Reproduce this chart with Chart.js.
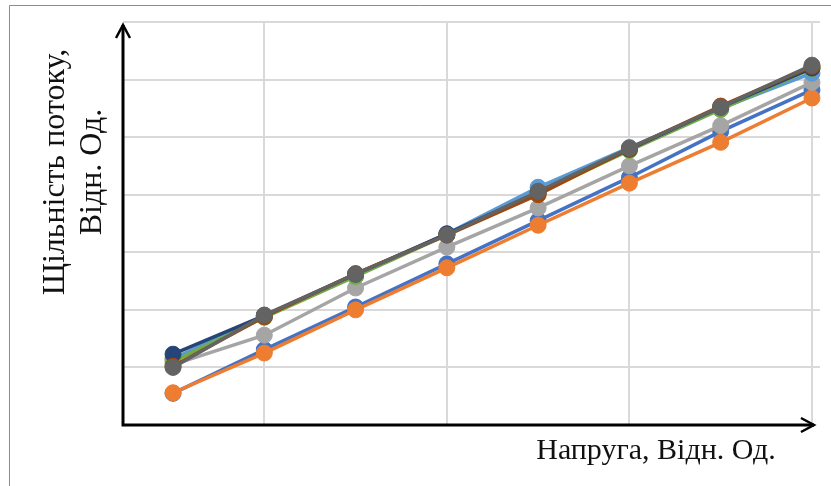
<!DOCTYPE html>
<html>
<head>
<meta charset="utf-8">
<script src="https://cdn.jsdelivr.net/npm/chart.js@4/dist/chart.umd.min.js"></script>
<style>
  html, body { margin: 0; padding: 0; background: #ffffff; }
  #wrap { width: 831px; height: 486px; }
</style>
</head>
<body>
<div id="wrap"><canvas id="c" width="831" height="486"></canvas></div>
<script>
// Voltage steps (relative units)
const voltage = [1, 2, 3, 4, 5, 6, 7, 8];

// Flux density per series (relative units)
const seriesBlue      = [0.55, 1.31, 2.05, 2.80, 3.55, 4.30, 5.10, 5.82];
const seriesOrange    = [0.56, 1.25, 2.00, 2.73, 3.47, 4.20, 4.91, 5.68];
const seriesGray      = [1.05, 1.56, 2.38, 3.09, 3.77, 4.50, 5.20, 5.95];
const seriesGold      = [1.15, 1.88, 2.60, 3.31, 4.02, 4.78, 5.50, 6.20];
const seriesLightBlue = [1.15, 1.89, 2.60, 3.32, 4.13, 4.82, 5.50, 6.11];
const seriesGreen     = [1.10, 1.87, 2.58, 3.30, 4.03, 4.77, 5.48, 6.19];
const seriesDarkBlue  = [1.23, 1.90, 2.62, 3.32, 4.04, 4.79, 5.52, 6.20];
const seriesBrown     = [1.02, 1.88, 2.63, 3.30, 4.00, 4.80, 5.54, 6.23];
const seriesDarkGray  = [1.00, 1.91, 2.62, 3.30, 4.06, 4.81, 5.52, 6.25];

// Gridline positions
const xGridTicks = [2, 4, 6, 8];
const yGridTicks = [1, 2, 3, 4, 5, 6, 7];

const xTitle = 'Напруга, Відн. Од.';
const yTitleLines = ['Щільність потоку,', 'Відн. Од.'];

const series = [
  { data: seriesBlue,      color: '#4472C4' },
  { data: seriesOrange,    color: '#ED7D31' },
  { data: seriesGray,      color: '#A5A5A5' },
  { data: seriesGold,      color: '#FFC000' },
  { data: seriesLightBlue, color: '#5B9BD5' },
  { data: seriesGreen,     color: '#70AD47' },
  { data: seriesDarkBlue,  color: '#264478' },
  { data: seriesBrown,     color: '#9E480E' },
  { data: seriesDarkGray,  color: '#636363' }
];

const datasets = series.map((s, i) => ({
  data: voltage.map((v, k) => ({ x: v, y: s.data[k] })),
  borderColor: s.color,
  backgroundColor: s.color,
  pointBackgroundColor: s.color,
  pointBorderColor: s.color,
  borderWidth: 3.5,
  pointRadius: 8,
  pointBorderWidth: 1,
  tension: 0,
  clip: false,
  order: series.length - i   // later series drawn on top
}));

// Frame, arrowed axes and axis titles
const decor = {
  id: 'decor',
  afterDraw(chart) {
    const ctx = chart.ctx;
    const a = chart.chartArea;
    const yAxisX = a.left;
    const xAxisY = a.bottom;
    ctx.save();

    // outer frame
    ctx.strokeStyle = '#8c8c8c';
    ctx.lineWidth = 1;
    ctx.beginPath();
    ctx.moveTo(9.5, 486);
    ctx.lineTo(9.5, 5.5);
    ctx.lineTo(831, 5.5);
    ctx.stroke();

    // axes
    ctx.strokeStyle = '#000';
    ctx.lineWidth = 3;
    ctx.lineCap = 'butt';
    const xTip = chart.scales.x.getPixelForValue(8) + 2;
    const yTip = a.top + 3;
    ctx.beginPath();
    ctx.moveTo(yAxisX, xAxisY + 1.5);
    ctx.lineTo(yAxisX, yTip);
    ctx.moveTo(yAxisX - 1.5, xAxisY);
    ctx.lineTo(xTip, xAxisY);
    ctx.stroke();

    // arrow heads
    ctx.lineWidth = 2.5;
    ctx.lineJoin = 'miter';
    ctx.beginPath();
    ctx.moveTo(yAxisX - 7, yTip + 13);
    ctx.lineTo(yAxisX, yTip);
    ctx.lineTo(yAxisX + 7, yTip + 13);
    ctx.moveTo(xTip - 13, xAxisY - 7);
    ctx.lineTo(xTip, xAxisY);
    ctx.lineTo(xTip - 13, xAxisY + 7);
    ctx.stroke();

    // titles
    ctx.fillStyle = '#111';
    ctx.font = '30px "Liberation Serif", "DejaVu Serif", serif';
    ctx.textAlign = 'center';
    ctx.textBaseline = 'alphabetic';
    ctx.fillText(xTitle, 656, 459);

    ctx.save();
    ctx.font = '32px "Liberation Serif", "DejaVu Serif", serif';
    ctx.translate(0, 172);
    ctx.rotate(-Math.PI / 2);
    ctx.fillText(yTitleLines[0], 0, 64);
    ctx.fillText(yTitleLines[1], 0, 101);
    ctx.restore();

    ctx.restore();
  }
};

new Chart(document.getElementById('c'), {
  type: 'line',
  data: { datasets },
  options: {
    responsive: false,
    animation: false,
    events: [],
    layout: { padding: { left: 123, top: 22, right: 11, bottom: 61 } },
    plugins: { legend: { display: false }, tooltip: { enabled: false } },
    scales: {
      x: {
        type: 'linear',
        min: 0.452,
        max: 8.088,
        afterBuildTicks(scale) { scale.ticks = xGridTicks.map(v => ({ value: v })); },
        ticks: { display: false },
        border: { display: false },
        grid: { color: '#d9d9d9', lineWidth: 2, drawTicks: false }
      },
      y: {
        type: 'linear',
        min: 0,
        max: 7,
        afterBuildTicks(scale) { scale.ticks = yGridTicks.map(v => ({ value: v })); },
        ticks: { display: false },
        border: { display: false },
        grid: { color: '#d9d9d9', lineWidth: 2, drawTicks: false }
      }
    }
  },
  plugins: [decor]
});
</script>
</body>
</html>
